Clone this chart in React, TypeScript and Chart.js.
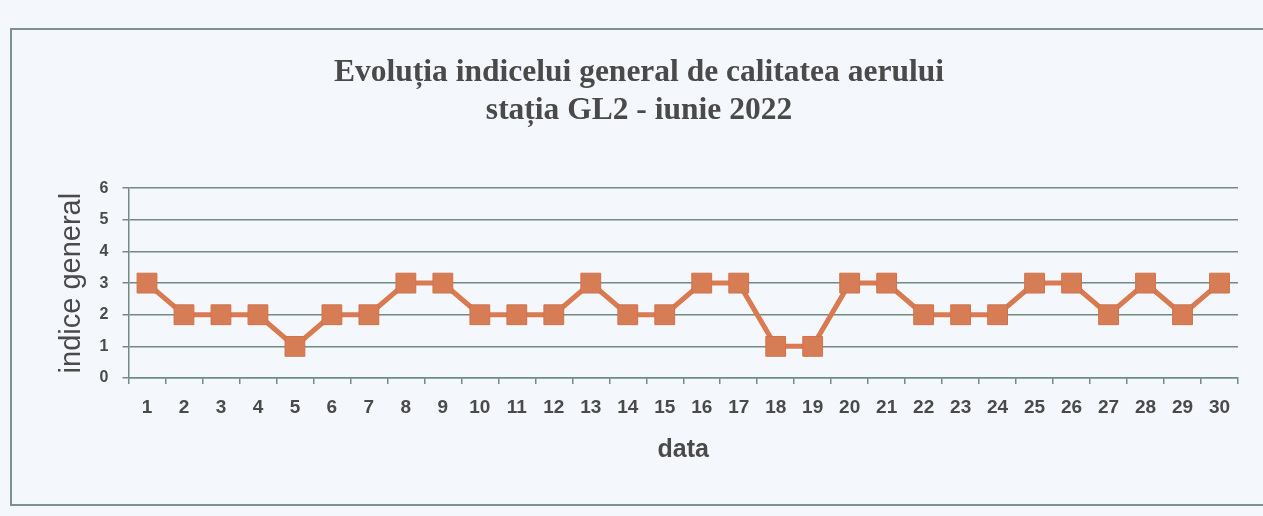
import React, { useEffect, useRef } from "react";
import { Chart, registerables } from "chart.js";

Chart.register(...registerables);

const titleLines = ["Evoluția indicelui general de calitatea aerului", "stația GL2 - iunie 2022"];
const days = ["1","2","3","4","5","6","7","8","9","10","11","12","13","14","15","16","17","18","19","20","21","22","23","24","25","26","27","28","29","30"];
const indexValues = [3,2,2,2,1,2,2,3,3,2,2,2,3,2,2,3,3,1,1,3,3,2,2,2,3,3,2,3,2,3];
const yTicks = [0,1,2,3,4,5,6];
const yTitle = "indice general";
const xTitle = "data";

const GRID = "#718b86";
const LINE = "#d97a50";
const TEXT = "#4a4a4a";

export default function App() {
  const ref = useRef<HTMLCanvasElement | null>(null);
  useEffect(() => {
    if (!ref.current) return;
    const chart = new Chart(ref.current, {
      type: "line",
      data: {
        labels: days,
        datasets: [
          {
            data: indexValues,
            borderColor: LINE,
            backgroundColor: LINE,
            borderWidth: 5,
            pointStyle: "rect",
            pointRadius: 14,
            pointBorderWidth: 1,
            pointBorderColor: "#cf724a",
            pointBackgroundColor: "#d77d56",
            tension: 0,
          },
        ],
      },
      options: {
        animation: false,
        responsive: false,
        layout: { padding: { left: 40, right: 25, top: 0, bottom: 0 } },
        plugins: {
          legend: { display: false },
          tooltip: { enabled: false },
          title: {
            display: true,
            text: titleLines,
            color: TEXT,
            font: { family: "'Liberation Serif', 'Times New Roman', serif", size: 31.5, weight: "bold", lineHeight: 1.21 },
            padding: { top: 54, bottom: 58 },
          },
        },
        scales: {
          x: {
            offset: true,
            afterFit: (s: any) => { s.height = 138; },
            grid: {
              offset: true,
              drawOnChartArea: true,
              color: (c: any) => (c.index === days.length ? GRID : "rgba(0,0,0,0)"),
              tickColor: GRID,
              tickLength: 6,
              lineWidth: 1.5,
            },
            border: { display: true, color: GRID, width: 1.5 },
            ticks: {
              color: TEXT,
              padding: 12,
              maxRotation: 0,
              autoSkip: false,
              font: { family: "'Liberation Sans', Arial, sans-serif", size: 19, weight: "bold" },
            },
            title: {
              display: true,
              text: xTitle,
              color: TEXT,
              font: { family: "'Liberation Sans', Arial, sans-serif", size: 25, weight: "bold" },
              padding: { top: 0, bottom: 51 },
            },
          },
          y: {
            min: 0,
            max: 6,
            afterFit: (s: any) => { s.width = 88.5; },
            afterBuildTicks: (s: any) => { s.ticks = yTicks.map((v) => ({ value: v })); },
            grid: { color: GRID, lineWidth: 1.5, tickLength: 6, tickColor: GRID },
            border: { display: true, color: GRID, width: 1.5 },
            ticks: {
              color: TEXT,
              padding: 14,
              font: { family: "'Liberation Sans', Arial, sans-serif", size: 16, weight: "bold" },
            },
            title: {
              display: true,
              text: yTitle,
              color: TEXT,
              font: { family: "'Liberation Sans', Arial, sans-serif", size: 29 },
              padding: { top: 15, bottom: 0 },
            },
          },
        },
      },
    });
    return () => chart.destroy();
  }, []);

  return (
    <div style={{ position: "absolute", left: 0, top: 0, width: 1263, height: 516, overflow: "hidden", background: "#f4f7fb" }}>
      <div style={{ position: "absolute", left: 10, top: 28, width: 1280, height: 478, border: "2px solid #7d928d", boxSizing: "border-box" }} />
      <canvas ref={ref} width={1263} height={516} style={{ position: "absolute", left: 0, top: 0 }} />
    </div>
  );
}
